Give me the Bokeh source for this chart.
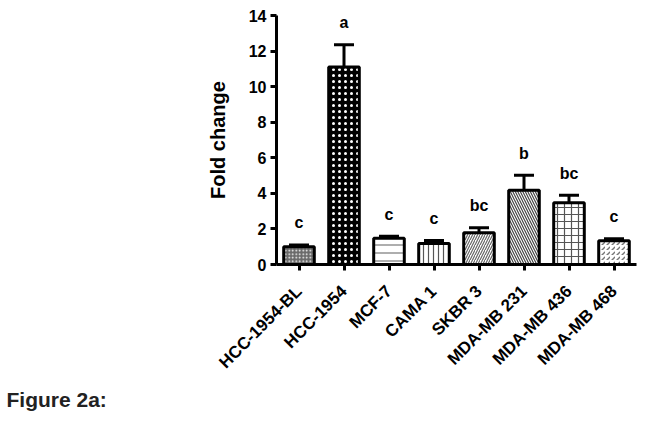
from bokeh.plotting import figure
from bokeh.models import (ColumnDataSource, Whisker, TeeHead, LabelSet, Title,
                          FactorRange, Range1d, FixedTicker)
from bokeh.core.properties import value
from bokeh.embed import file_html
from bokeh.resources import INLINE

# ---- data ----
cells = ["HCC-1954-BL", "HCC-1954", "MCF-7", "CAMA 1", "SKBR 3",
         "MDA-MB 231", "MDA-MB 436", "MDA-MB 468"]
fold = [1.0, 11.1, 1.47, 1.18, 1.78, 4.18, 3.47, 1.33]
sem = [0.1, 1.25, 0.12, 0.17, 0.28, 0.84, 0.43, 0.12]
letters = ["c", "a", "c", "c", "bc", "b", "bc", "c"]
y_ticks = [0, 2, 4, 6, 8, 10, 12, 14]

# ---- styles ----
patterns = ["dot", "dot", "horizontal_line", "vertical_line",
            "right_diagonal_line", "left_diagonal_line", "cross", "right_diagonal_dash"]
fills = ["#6a6a6a", "black", "white", "white", "white", "white", "white", "white"]
hatch_colors = ["white", "white", "#777777", "#555555", "#666666", "#444444", "#555555", "#777777"]
hatch_scales = [3.5, 6.0, 8, 5, 5, 5, 7, 5]
hatch_weights = [1, 2.2, 1.2, 1.2, 1.2, 1.2, 1.2, 1.5]

FONT = "Liberation Sans"

tops = [f + s for f, s in zip(fold, sem)]
src = ColumnDataSource(dict(x=cells, top=fold, upper=tops, lab=letters,
                            pat=patterns, fc=fills, hc=hatch_colors,
                            hs=hatch_scales, hw=hatch_weights))

p = figure(width=641, height=420, output_backend="svg", toolbar_location=None,
           x_range=FactorRange(factors=cells, range_padding=0),
           y_range=Range1d(0, 14),
           min_border_left=276, min_border_right=5, min_border_top=15,
           min_border_bottom=156)
p.outline_line_color = None
p.grid.visible = False
p.background_fill_color = "white"

p.add_layout(Whisker(source=src, base="x", upper="upper", lower="top",
                     upper_head=TeeHead(size=20, line_width=3, line_color="black"),
                     lower_head=None, line_width=3, line_color="black"))

p.vbar(x="x", top="top", bottom=0, width=0.68, source=src,
       fill_color="fc", line_color="black", line_width=3,
       hatch_pattern="pat", hatch_color="hc", hatch_scale="hs", hatch_weight="hw")

p.add_layout(LabelSet(x="x", y="upper", text="lab", source=src, y_offset=22,
                      text_align="center", text_baseline="middle",
                      text_font=value(FONT), text_font_style="bold",
                      text_font_size="16px", text_color="black"))

# axes
p.yaxis.ticker = FixedTicker(ticks=y_ticks)
p.yaxis.axis_label = "Fold change"
p.yaxis.axis_label_text_font = FONT
p.yaxis.axis_label_text_font_style = "bold"
p.yaxis.axis_label_text_font_size = "20px"
p.yaxis.axis_label_text_color = "black"
p.yaxis.axis_label_standoff = 17
p.yaxis.minor_tick_line_color = None

for ax in (p.xaxis, p.yaxis):
    ax.axis_line_width = 3
    ax.axis_line_color = "black"
    ax.major_tick_line_width = 3
    ax.major_tick_line_color = "black"
    ax.major_tick_in = 0
    ax.major_tick_out = 6
    ax.major_label_text_font = FONT
    ax.major_label_text_font_style = "bold"
    ax.major_label_text_color = "black"

p.yaxis.major_label_text_font_size = "16px"
p.yaxis.major_label_standoff = 4
p.xaxis.major_label_text_font_size = "17px"
p.xaxis.major_label_orientation = 0.785398
p.xaxis.major_label_standoff = 18

p.add_layout(Title(text="Figure 2a:", align="left", offset=-270,
                   text_font=FONT, text_font_style="bold",
                   text_font_size="21px", text_color="#222222",
                   standoff=9), "below")

open("out.html", "w").write(file_html(p, INLINE))
